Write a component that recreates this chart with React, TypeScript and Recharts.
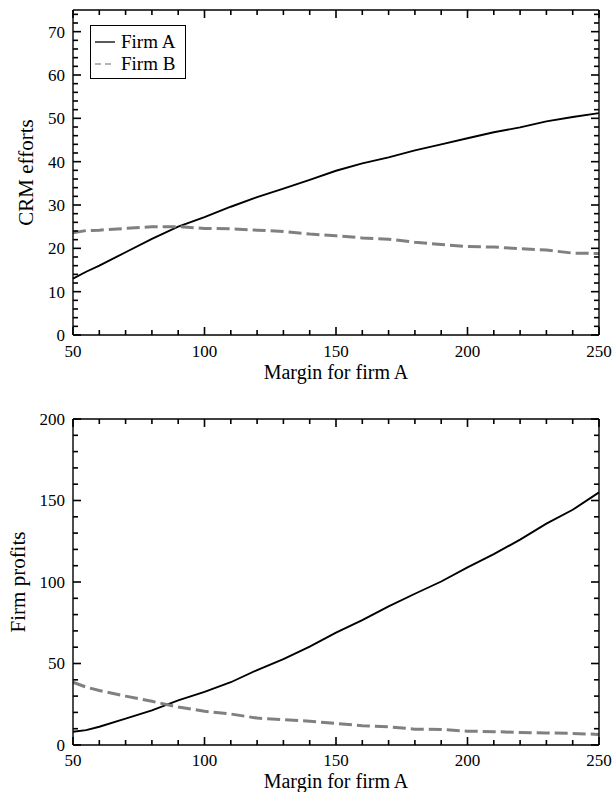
import { Legend, Line, LineChart, XAxis, YAxis } from 'recharts';

const margins = [50, 55, 60, 70, 80, 90, 100, 110, 120, 130, 140, 150, 160, 170, 180, 190, 200, 210, 220, 230, 240, 250];

// CRM efforts
const effortA = [13.0, 14.6, 16.0, 19.1, 22.2, 25.0, 27.2, 29.6, 31.8, 33.8, 35.8, 37.9, 39.6, 41.0, 42.6, 44.0, 45.4, 46.8, 47.9, 49.3, 50.3, 51.2];
const effortB = [23.6, 24.1, 24.2, 24.6, 25.0, 25.0, 24.6, 24.5, 24.2, 23.9, 23.3, 22.9, 22.4, 22.1, 21.4, 20.9, 20.4, 20.3, 19.9, 19.6, 18.9, 18.8];

// firm profits
const profitA = [8.1, 9.1, 11.2, 16.2, 21.3, 27.4, 32.6, 38.5, 46.0, 52.7, 60.4, 68.9, 76.6, 85.1, 92.8, 100.3, 109.0, 117.1, 126.0, 135.8, 144.3, 155.0];
const profitB = [38.5, 35.5, 33.4, 30.0, 26.8, 23.3, 20.7, 19.0, 16.5, 15.5, 14.6, 13.2, 11.8, 11.2, 9.7, 9.5, 8.5, 8.2, 7.7, 7.4, 7.1, 6.5];

const xTicks = [50, 60, 70, 80, 90, 100, 110, 120, 130, 140, 150, 160, 170, 180, 190, 200, 210, 220, 230, 240, 250];
const effortTicks = [0, 2, 4, 6, 8, 10, 12, 14, 16, 18, 20, 22, 24, 26, 28, 30, 32, 34, 36, 38, 40, 42, 44, 46, 48, 50, 52, 54, 56, 58, 60, 62, 64, 66, 68, 70, 72, 74];
const profitTicks = [0, 10, 20, 30, 40, 50, 60, 70, 80, 90, 100, 110, 120, 130, 140, 150, 160, 170, 180, 190, 200];

const seriesNames = ['Firm A', 'Firm B'];

const FONT = 'Liberation Serif, Times New Roman, Times, serif';
const MINOR = 5;
const MAJOR = 8;
const TW = 1.6; // tick thickness

// ticks drawn inward as small filled rects; labels only on major values
function AxisTick(props: any) {
  const { x, y, payload, side, step, labelGap } = props;
  const v = payload && payload.value;
  const major = v % step === 0;
  const len = major ? MAJOR : MINOR;
  const nx = Number(x);
  const ny = Number(y);
  if (side === 'bottom') {
    return (
      <g>
        <rect x={nx - TW / 2} y={ny - len} width={TW} height={len} fill='#000' />
        {major && (
          <text x={nx} y={ny + labelGap} textAnchor='middle' fill='#000' style={{ fontFamily: FONT, fontSize: 17 }}>
            {v}
          </text>
        )}
      </g>
    );
  }
  if (side === 'top') {
    return <rect x={nx - TW / 2} y={ny} width={TW} height={len} fill='#000' />;
  }
  if (side === 'left') {
    return (
      <g>
        <rect x={nx} y={ny - TW / 2} width={len} height={TW} fill='#000' />
        {major && (
          <text x={nx - 8} y={ny} dy='0.35em' textAnchor='end' fill='#000' style={{ fontFamily: FONT, fontSize: 17 }}>
            {v}
          </text>
        )}
      </g>
    );
  }
  return <rect x={nx - len} y={ny - TW / 2} width={len} height={TW} fill='#000' />;
}

const LegendBox = () => (
  <div
    style={{
      border: '1px solid #000',
      background: '#fff',
      width: 96,
      height: 54,
      fontFamily: FONT,
      fontSize: 19,
      lineHeight: '22px',
      padding: '5px 0 0 0',
      boxSizing: 'border-box',
    }}
  >
    {seriesNames.map((name, i) => (
      <div key={name} style={{ display: 'flex', alignItems: 'center', height: 22 }}>
        <svg width={30} height={10} style={{ flex: 'none' }}>
          <line
            x1={4}
            y1={5}
            x2={24}
            y2={5}
            stroke={i === 0 ? '#000' : '#9a9a9a'}
            strokeWidth={1.3}
            strokeDasharray={i === 0 ? undefined : '6 4'}
          />
        </svg>
        <span>{name}</span>
      </div>
    ))}
  </div>
);

interface PanelProps {
  top: number;
  height: number;
  plotTop: number;
  xAxisHeight: number;
  labelGap: number;
  titleGap: number;
  yDomain: [number, number];
  yTicks: number[];
  yStep: number;
  yLabel: string;
  yLabelX: number;
  a: number[];
  b: number[];
  showLegend?: boolean;
}

const axisLine = { stroke: '#000', strokeWidth: 1.4 };

function Panel({ top, height, plotTop, xAxisHeight, labelGap, titleGap, yDomain, yTicks, yStep, yLabel, yLabelX, a, b, showLegend }: PanelProps) {
  const rows = margins.map((m, i) => ({ m, a: a[i], b: b[i] }));
  return (
    <div style={{ position: 'absolute', left: 0, top }}>
      <LineChart width={613} height={height} data={rows} margin={{ top: plotTop - 1, right: 13, left: 0, bottom: 0 }}>
        <XAxis
          dataKey='m'
          type='number'
          domain={[50, 250]}
          ticks={xTicks}
          interval={0}
          tickSize={0}
          tickMargin={0}
          tickLine={false}
          height={xAxisHeight}
          axisLine={axisLine}
          tick={<AxisTick side='bottom' step={50} labelGap={labelGap} />}
          label={(p: any) => {
            const vb = p.viewBox || { x: 73, y: height - xAxisHeight, width: 526 };
            return (
              <text x={vb.x + vb.width / 2} y={vb.y + titleGap} textAnchor='middle' fill='#000' style={{ fontFamily: FONT, fontSize: 20 }}>
                Margin for firm A
              </text>
            );
          }}
        />
        <XAxis
          xAxisId='top'
          orientation='top'
          dataKey='m'
          type='number'
          domain={[50, 250]}
          allowDataOverflow
          ticks={xTicks}
          interval={0}
          tickSize={0}
          tickMargin={0}
          tickLine={false}
          height={1}
          axisLine={axisLine}
          tick={<AxisTick side='top' step={50} />}
        />
        <YAxis
          type='number'
          domain={yDomain}
          ticks={yTicks}
          interval={0}
          tickSize={0}
          tickMargin={0}
          tickLine={false}
          width={73}
          axisLine={axisLine}
          tick={<AxisTick side='left' step={yStep} />}
          label={(p: any) => {
            const vb = p.viewBox || { y: plotTop, height: height - plotTop - xAxisHeight };
            const cy = vb.y + vb.height / 2;
            return (
              <text
                x={yLabelX}
                y={cy}
                transform={`rotate(-90, ${yLabelX}, ${cy})`}
                textAnchor='middle'
                fill='#000'
                style={{ fontFamily: FONT, fontSize: 21 }}
              >
                {yLabel}
              </text>
            );
          }}
        />
        <YAxis
          yAxisId='right'
          orientation='right'
          type='number'
          domain={yDomain}
          allowDataOverflow
          ticks={yTicks}
          interval={0}
          tickSize={0}
          tickMargin={0}
          tickLine={false}
          width={1}
          axisLine={axisLine}
          tick={<AxisTick side='right' step={yStep} />}
        />
        {showLegend && (
          <Legend
            layout='horizontal'
            verticalAlign='middle'
            align='center'
            content={() => <LegendBox />}
            wrapperStyle={{ left: 90, top: 25, width: 'auto', height: 'auto' }}
          />
        )}
        <Line
          dataKey='a'
          name={seriesNames[0]}
          type='linear'
          stroke='#000'
          strokeWidth={1.9}
          dot={false}
          activeDot={false}
          isAnimationActive={false}
        />
        <Line
          dataKey='b'
          name={seriesNames[1]}
          type='linear'
          stroke='#808080'
          strokeWidth={3}
          strokeDasharray='13 5'
          dot={false}
          activeDot={false}
          isAnimationActive={false}
        />
      </LineChart>
    </div>
  );
}

export default function App() {
  return (
    <div style={{ position: 'absolute', left: 0, top: 0, width: 613, height: 792, background: '#fff' }}>
      <Panel
        top={0}
        height={400}
        plotTop={10}
        xAxisHeight={65}
        labelGap={22}
        titleGap={44}
        yDomain={[0, 75]}
        yTicks={effortTicks}
        yStep={10}
        yLabel='CRM efforts'
        yLabelX={33}
        a={effortA}
        b={effortB}
        showLegend
      />
      <Panel
        top={400}
        height={392}
        plotTop={19}
        xAxisHeight={47}
        labelGap={21}
        titleGap={43}
        yDomain={[0, 200]}
        yTicks={profitTicks}
        yStep={50}
        yLabel='Firm profits'
        yLabelX={25}
        a={profitA}
        b={profitB}
      />
    </div>
  );
}
